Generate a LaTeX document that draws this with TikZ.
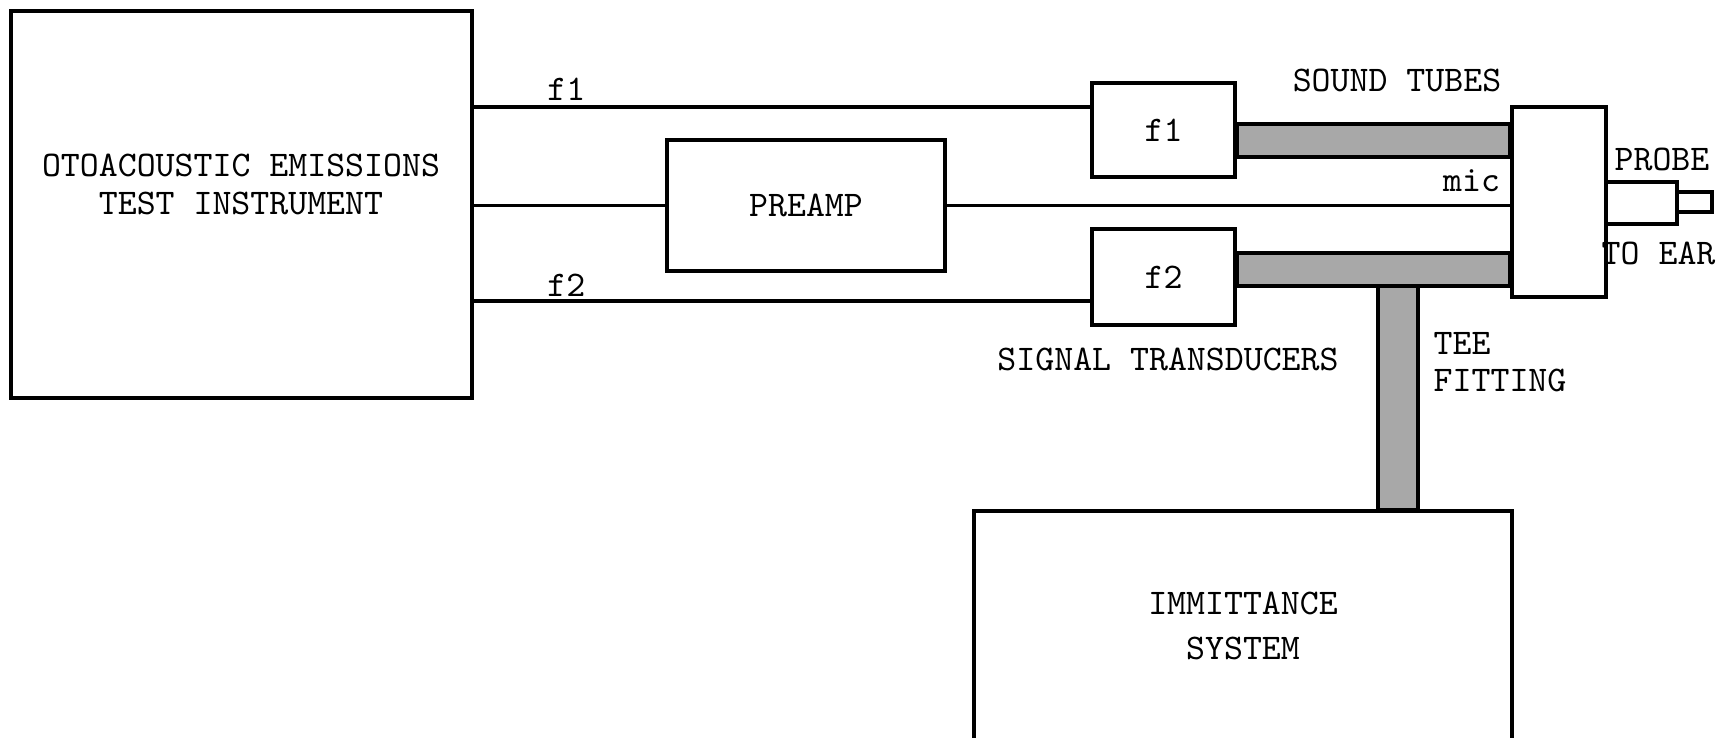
\documentclass[tikz,border=0pt]{standalone}
\usepackage{fontspec}
\usetikzlibrary{calc,positioning}
\definecolor{tubegray}{gray}{0.66}
\newcommand{\labelfont}{\ttfamily\fontsize{10.27}{11.5}\selectfont}

\tikzset{
  unit/.style={draw, line width=1.1pt, inner sep=0pt, font=\labelfont},
  lbl/.style={inner sep=0pt, font=\labelfont},
  wire/.style={line width=0.95pt},
  thinwire/.style={line width=0.6pt},
  tubefill/.style={draw, line width=0.9pt, fill=tubegray},
}

\begin{document}
\begin{tikzpicture}[x=0.1mm,y=-0.1mm]
  \useasboundingbox (0,0) rectangle (1718,737);
  % blocks
  \node[unit, minimum width=46.1mm, minimum height=38.7mm] (oae) at (241.5,204.5) {};
  \node[lbl, align=center, font=\ttfamily\fontsize{10.27}{10.8}\selectfont] (oaetxt) at (241,184) {OTOACOUSTIC EMISSIONS\\TEST INSTRUMENT};
  \node[unit, minimum width=27.8mm, minimum height=13.1mm] (preamp) at (806,205.5) {PREAMP};
  \node[unit, minimum width=14.3mm, minimum height=9.4mm] (tf1) at (1163.5,130) {\raisebox{-0.5mm}{f1}};
  \node[unit, minimum width=14.3mm, minimum height=9.6mm] (tf2) at (1163.5,277) {\raisebox{-0.5mm}{f2}};
  \node[unit, minimum width=53.8mm, minimum height=22.9mm, align=center, font=\ttfamily\fontsize{10.27}{12.8}\selectfont] (imm) at (1243,625.5) {IMMITTANCE\\SYSTEM};
  % probe
  \node[lbl, anchor=west] (toear) at (1601,253) {TO EAR};
  \node[unit, minimum width=9.4mm, minimum height=19mm] (probe) at (1559,202) {};
  \node[unit, minimum width=7.1mm, minimum height=4.2mm] (stem) at (1641.5,203) {};
  \node[unit, minimum width=3.5mm, minimum height=2mm] (tip) at (1694.5,202) {};
  \node[lbl] (probetxt) at (1662,159) {PROBE};
  % wires
  \draw[wire] ([yshift=2.3mm]tf1.west -| oae.east) -- node[lbl, pos=0.15, anchor=south, yshift=0.5mm] (lf1) {f1} ([yshift=2.3mm]tf1.west);
  \draw[wire] ([yshift=-2.4mm]tf2.west -| oae.east) -- node[lbl, pos=0.15, anchor=south, yshift=0.25mm] (lf2) {f2} ([yshift=-2.4mm]tf2.west);
  \draw[thinwire] (oae.east |- preamp.west) -- (preamp.west);
  \draw[thinwire] (preamp.east) -- (preamp.east -| probe.west) node[lbl, anchor=south east, xshift=-0.9mm, yshift=1.3mm] (mic) {mic};
  % sound tubes
  \draw[tubefill] ([yshift=0.6mm]tf1.east) rectangle ([yshift=-2.7mm]tf1.east -| probe.west);
  \coordinate (teetop) at ([xshift=13.5mm,yshift=-0.9mm]imm.north |- tf2.east);
  \draw[tubefill] (teetop) rectangle ([xshift=4mm]teetop |- imm.north);
  \draw[tubefill] ([yshift=2.4mm]tf2.east) rectangle ([yshift=-0.9mm]tf2.east -| probe.west);
  % labels
  \node[lbl] (sndtubes) at (1397,80) {SOUND TUBES};
  \node[lbl] (sigtrans) at (1168,359) {SIGNAL TRANSDUCERS};
  \node[lbl, align=left, anchor=west, font=\ttfamily\fontsize{10.27}{10.6}\selectfont] (tee) at (1433,362) {TEE\\FITTING};
\end{tikzpicture}
\end{document}
